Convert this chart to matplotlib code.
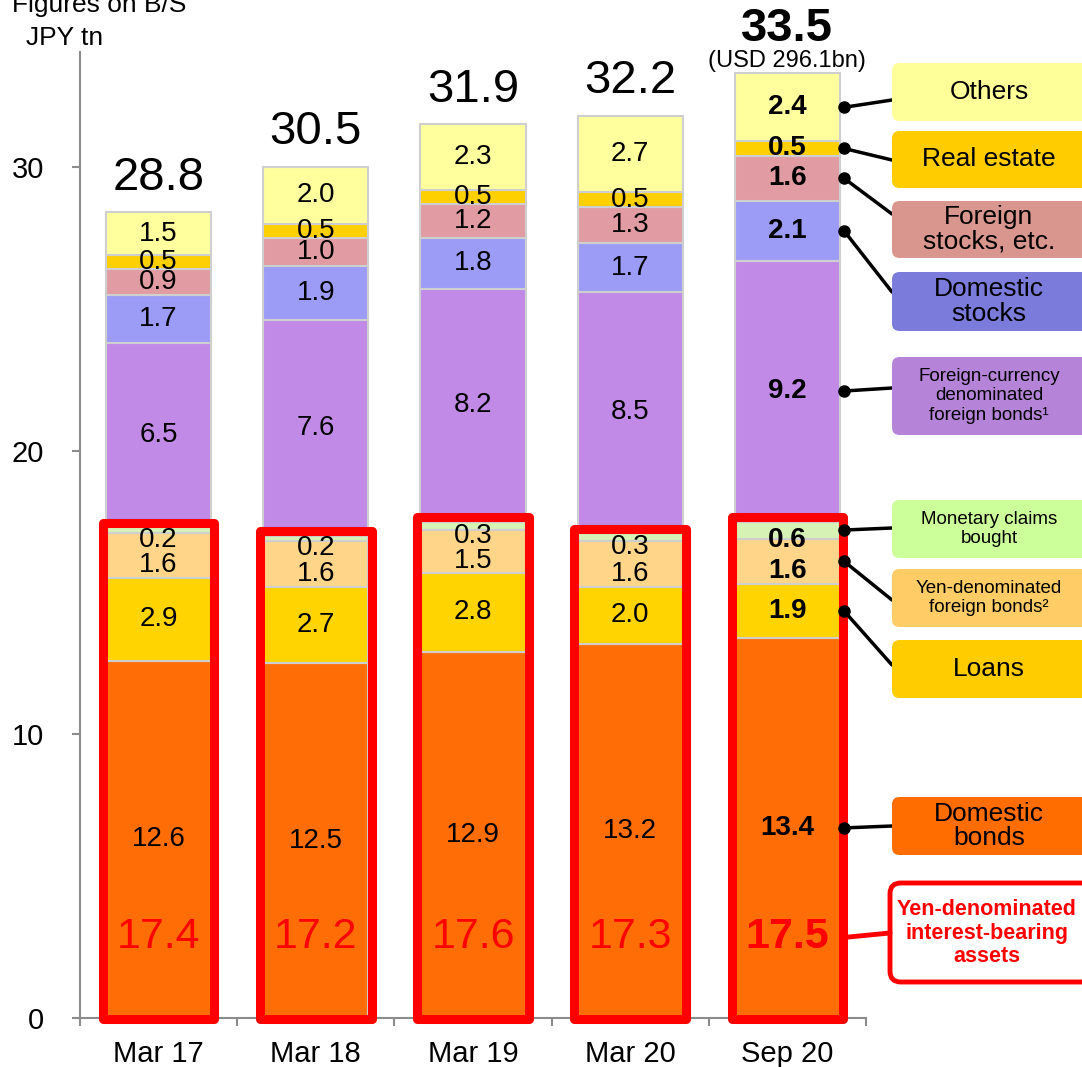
import matplotlib
matplotlib.use("Agg")
import matplotlib.pyplot as plt
from matplotlib.patches import Rectangle, FancyBboxPatch, ConnectionPatch
import numpy as np

plt.rcParams['font.family'] = ['Liberation Sans', 'DejaVu Sans']

periods = ['Mar 17', 'Mar 18', 'Mar 19', 'Mar 20', 'Sep 20']

# stacked from bottom to top
domestic_bonds = [12.6, 12.5, 12.9, 13.2, 13.4]
loans = [2.9, 2.7, 2.8, 2.0, 1.9]
yen_foreign_bonds = [1.6, 1.6, 1.5, 1.6, 1.6]
monetary_claims = [0.2, 0.2, 0.3, 0.3, 0.6]
fx_foreign_bonds = [6.5, 7.6, 8.2, 8.5, 9.2]
domestic_stocks = [1.7, 1.9, 1.8, 1.7, 2.1]
foreign_stocks = [0.9, 1.0, 1.2, 1.3, 1.6]
real_estate = [0.5, 0.5, 0.5, 0.5, 0.5]
others = [1.5, 2.0, 2.3, 2.7, 2.4]

totals = [28.8, 30.5, 31.9, 32.2, 33.5]
yen_interest = [17.4, 17.2, 17.6, 17.3, 17.5]
usd_note = '(USD 296.1bn)'

series = [domestic_bonds, loans, yen_foreign_bonds, monetary_claims,
          fx_foreign_bonds, domestic_stocks, foreign_stocks, real_estate, others]
bar_colors = ['#FF6E06', '#FFD400', '#FFD58A', '#D6F2B4', '#C08AE6',
              '#9C9CF6', '#E09CA2', '#FFD000', '#FFFF9E']
# small downward nudge of the labels for the thin segments inside the red boxes
label_shift = [0, 0, -0.35, -0.35, 0, 0, 0, 0, 0]

W, H = 1082, 1067
fig = plt.figure(figsize=(W / 100, H / 100), dpi=100)
ax = fig.add_axes([80 / W, 1 - 1018 / H, (866 - 80) / W, (1018 - 52) / H])


def fpos(px, py):
    return px / W, 1 - py / H


x = np.arange(len(periods))
bw = 0.67
last = len(x) - 1
bottom = np.zeros(len(periods))
centers = []
for vals, col, sh in zip(series, bar_colors, label_shift):
    vals = np.array(vals)
    ax.bar(x, vals, bw, bottom=bottom, color=col, edgecolor='#CFCFCF', linewidth=1.5, zorder=2)
    centers.append(bottom + vals / 2)
    for i in range(len(x)):
        bold = 'bold' if i == last else 'normal'
        ax.text(x[i], bottom[i] + vals[i] / 2 + sh, '%.1f' % vals[i], ha='center', va='center',
                fontsize=20, fontweight=bold, zorder=6)
    bottom = bottom + vals

# red boxes around yen-denominated interest-bearing assets
yen_sum = np.sum(series[:4], axis=0)
for i in range(len(x)):
    r = Rectangle((x[i] - 0.355, -0.05), 0.71, yen_sum[i] + 0.2, fill=False,
                  edgecolor='#FF0000', linewidth=6.5, joinstyle='round', clip_on=False, zorder=5)
    ax.add_patch(r)
    bold = 'bold' if i == last else 'normal'
    ax.text(x[i], 2.85, '%.1f' % yen_interest[i], ha='center', va='center', color='#FF0000',
            fontsize=31, fontweight=bold, zorder=6)

# totals
for i in range(len(x)):
    if i == last:
        ax.text(x[i], bottom[i] + 0.05, usd_note, ha='center', va='bottom', fontsize=17, clip_on=False)
        ax.text(x[i], bottom[i] + 0.8, '%.1f' % totals[i], ha='center', va='bottom', fontsize=34,
                fontweight='bold', clip_on=False)
    else:
        ax.text(x[i], bottom[i] + 0.45, '%.1f' % totals[i], ha='center', va='bottom', fontsize=34,
                clip_on=False)

ax.set_xlim(-0.5, 4.5)
ax.set_ylim(0, 34.05)
ax.set_yticks([0, 10, 20, 30])
ax.set_xticks(x)
ax.set_xticklabels(periods)
ax.set_xticks(np.arange(-0.5, 5, 1), minor=True)
ax.tick_params(axis='x', which='major', length=0, labelsize=21, pad=16)
ax.tick_params(axis='x', which='minor', length=6, color='#8C8C8C', width=1.5)
ax.tick_params(axis='y', length=6, color='#8C8C8C', width=1.5, labelsize=21, pad=20)
for s in ['top', 'right']:
    ax.spines[s].set_visible(False)
for s in ['left', 'bottom']:
    ax.spines[s].set_color('#8C8C8C')
    ax.spines[s].set_linewidth(1.5)

fig.text(*fpos(12, 12), 'Figures on B/S', fontsize=19, ha='left', va='baseline')
fig.text(*fpos(26, 45), 'JPY tn', fontsize=19, ha='left', va='baseline')

# legend boxes on the right
legend_items = [
    ('Others', 63, 121, '#FFFF99', 19, 8, (892, 100)),
    ('Real estate', 131, 188, '#FFCC00', 19, 7, (892, 160)),
    ('Foreign\nstocks, etc.', 201, 258, '#D9968F', 19, 6, (892, 214)),
    ('Domestic\nstocks', 272, 331, '#7B7BDB', 19, 5, (892, 292)),
    ('Foreign-currency\ndenominated\nforeign bonds\u00b9', 357, 435, '#B584D9', 13.5, 4, (892, 388)),
    ('Monetary claims\nbought', 500, 558, '#CCFF99', 13.5, 3, (892, 528)),
    ('Yen-denominated\nforeign bonds\u00b2', 569, 627, '#FFCC66', 13.5, 2, (892, 600)),
    ('Loans', 640, 698, '#FFCC00', 19, 1, (892, 665)),
    ('Domestic\nbonds', 797, 855, '#FF6C00', 19, 0, (892, 826)),
]
dot_x = last + 0.36
for label, top, bot, col, fs, idx, end in legend_items:
    x0, y0 = fpos(892, bot)
    x1, y1 = fpos(1092, top)
    box = FancyBboxPatch((x0, y0), x1 - x0, y1 - y0, boxstyle='round,pad=0,rounding_size=0.007',
                         transform=fig.transFigure, facecolor=col, edgecolor='none', zorder=3)
    fig.add_artist(box)
    ls = 1.05 if fs > 15 else 1.2
    fig.text(*fpos(989, (top + bot) / 2), label, ha='center', va='center', fontsize=fs,
             linespacing=ls, zorder=4)
    yc = centers[idx][last]
    con = ConnectionPatch(xyA=(dot_x, yc), coordsA='data', axesA=ax,
                          xyB=fpos(*end), coordsB='figure fraction', color='black', linewidth=2.5)
    fig.add_artist(con)
    ax.plot(dot_x, yc, 'o', color='black', markersize=8, clip_on=False, zorder=7)

# yen-denominated interest-bearing assets box
x0, y0 = fpos(890, 982)
x1, y1 = fpos(1092, 883)
box = FancyBboxPatch((x0, y0), x1 - x0, y1 - y0, boxstyle='round,pad=0,rounding_size=0.01',
                     transform=fig.transFigure, facecolor='white', edgecolor='#FF0000', linewidth=3.5)
fig.add_artist(box)
fig.text(*fpos(987, 933), 'Yen-denominated\ninterest-bearing\nassets', ha='center', va='center',
         fontsize=15.5, fontweight='bold', color='#FF0000', linespacing=1.15)
con = ConnectionPatch(xyA=(last + 0.38, 2.85), coordsA='data', axesA=ax,
                      xyB=fpos(890, 933), coordsB='figure fraction', color='#FF0000', linewidth=3.5)
fig.add_artist(con)

fig.savefig('out.png', dpi=100)
